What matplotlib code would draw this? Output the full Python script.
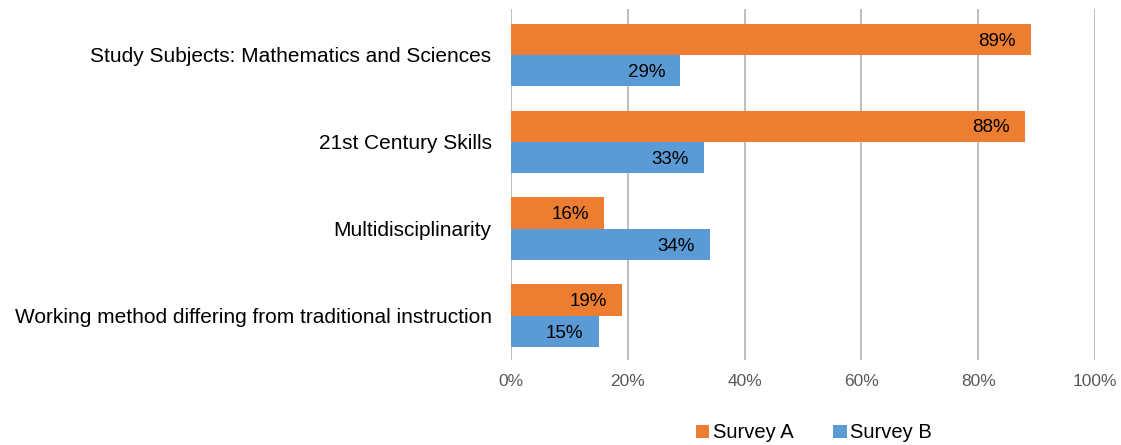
import numpy as np
import matplotlib.pyplot as plt
from matplotlib.ticker import PercentFormatter

plt.rcParams['font.family'] = ['Liberation Sans', 'DejaVu Sans']

categories = ['Study Subjects: Mathematics and Sciences', '21st Century Skills',
              'Multidisciplinarity', 'Working method differing from traditional instruction']
survey_a = [89, 88, 16, 19]
survey_b = [29, 33, 34, 15]
series_names = ['Survey A', 'Survey B']
colors = ['#ED7D31', '#5B9BD5']

fig = plt.figure(figsize=(11.21, 4.45), dpi=100)
ax = fig.add_axes([0.4558, 0.191, 0.521, 0.789])

y = np.arange(len(categories))
h = 0.36
bars_a = ax.barh(y - h / 2, survey_a, height=h, color=colors[0], label=series_names[0])
bars_b = ax.barh(y + h / 2, survey_b, height=h, color=colors[1], label=series_names[1])

for bars in (bars_a, bars_b):
    for b in bars:
        ax.text(b.get_width() - 2.6, b.get_y() + b.get_height() / 2 + 0.02, f'{b.get_width():.0f}%',
                ha='right', va='center', fontsize=13.5, color='#000000')

ax.set_xlim(0, 100)
ax.set_ylim(len(categories) - 0.49, -0.53)
ax.set_xticks(np.arange(0, 101, 20))
ax.xaxis.set_major_formatter(PercentFormatter(decimals=0))
ax.set_yticks(y)
ax.set_yticklabels(categories, fontsize=15, color='#000000')
ax.tick_params(axis='x', colors='#595959', labelsize=12.5, length=0, pad=10)
ax.tick_params(axis='y', length=0, pad=14)
ax.grid(axis='x', color='#BFBFBF', linewidth=1.5)
ax.set_axisbelow(True)
for s in ax.spines.values():
    s.set_visible(False)

fig.legend(loc='center', bbox_to_anchor=(0.726, 0.027), ncol=2, frameon=False,
           fontsize=14.5, handlelength=0.65, handleheight=0.65, handletextpad=0.15,
           columnspacing=2.0)

fig.savefig('out.png', dpi=100)
